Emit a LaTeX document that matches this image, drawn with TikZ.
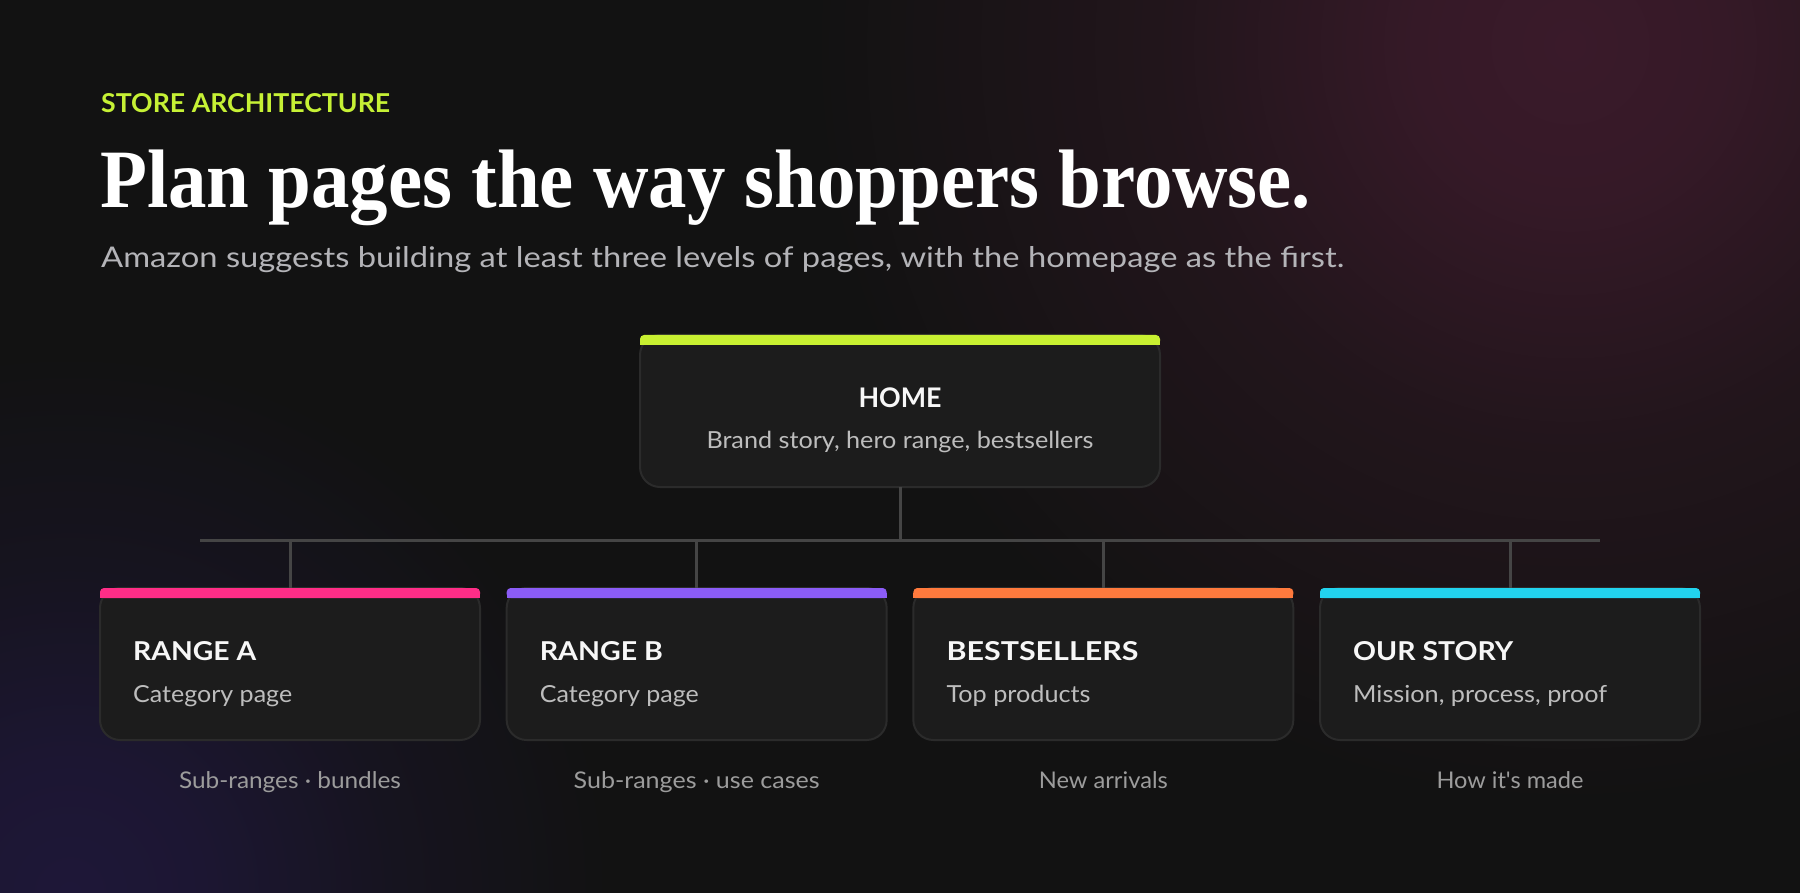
\documentclass[tikz,border=0pt]{standalone}
\usepackage{fontspec}
\usepackage{graphicx}
\newfontfamily\sansf{Lato}
\newfontfamily\seriff{Liberation Serif}
\definecolor{bg}{HTML}{121212}
\definecolor{glowR}{HTML}{3A1A2A}
\definecolor{glowB}{HTML}{1E1738}
\definecolor{boxfill}{HTML}{1C1C1C}
\definecolor{boxline}{HTML}{2B2B2B}
\definecolor{linec}{HTML}{454545}
\definecolor{kicker}{HTML}{C6F135}
\definecolor{cgreen}{HTML}{C8F031}
\definecolor{cpink}{HTML}{FF2D87}
\definecolor{cpurple}{HTML}{8B5CF6}
\definecolor{corange}{HTML}{FF7A3D}
\definecolor{ccyan}{HTML}{22D3EE}
\definecolor{txtw}{HTML}{F7F7F7}
\definecolor{txtd}{HTML}{BDBDBD}
\definecolor{txts}{HTML}{B4B4B8}
\definecolor{txtu}{HTML}{9C9C9C}
\pgfdeclareradialshading{glowRs}{\pgfpoint{0bp}{0bp}}{color(0bp)=(glowR); color(5bp)=(glowR!88!bg); color(13bp)=(glowR!40!bg); color(25bp)=(bg); color(50bp)=(bg)}
\pgfdeclareradialshading{glowBs}{\pgfpoint{0bp}{0bp}}{color(0bp)=(glowB); color(6bp)=(glowB!85!bg); color(15bp)=(glowB!35!bg); color(25bp)=(bg); color(50bp)=(bg)}
\newlength\fitlen
\newcommand\fitw[2]{\settowidth\fitlen{#2}\pgfmathsetmacro\fitsc{#1/\fitlen}\scalebox{\fitsc}[1]{#2}}
\newcommand\topbar[2]{%
  \fill[#2, rounded corners=4pt] (#1.north west) rectangle ([yshift=-10pt]#1.north east);
  \fill[#2] ([yshift=-5pt]#1.north west) rectangle ([yshift=-10pt]#1.north east);}
\begin{document}
\begin{tikzpicture}[x=1pt,y=-1pt,
  box/.style={draw=boxline, line width=2pt, fill=boxfill, rounded corners=20pt,
    minimum width=380pt, minimum height=152pt, anchor=north west, outer sep=0pt, inner sep=0pt},
  conn/.style={draw=linec, line width=3pt},
  ttl/.style={anchor=base west, inner sep=0pt, text=txtw, font=\sansf\bfseries\fontsize{26}{30}\selectfont},
  dsc/.style={anchor=base west, inner sep=0pt, text=txtd, font=\sansf\fontsize{23.5}{28}\selectfont},
  sub/.style={anchor=base, inner sep=0pt, text=txtu, font=\sansf\fontsize{23}{26}\selectfont}]
\useasboundingbox (0,0) rectangle (1800,893);
\fill[bg] (0,0) rectangle (1800,893);
\begin{scope}
  \clip (0,0) rectangle (1800,893);
  \shade[shading=glowRs] (1570,45) circle (760);
  \shade[shading=glowBs] (70,893) circle (540);
\end{scope}

% header
\node[anchor=base west, inner sep=0pt, text=kicker, font=\sansf\bfseries\fontsize{26}{30}\selectfont] (kick) at (101,113) {\fitw{289}{STORE ARCHITECTURE}};
\node[anchor=base west, inner sep=0pt, text=white, font=\seriff\bfseries\fontsize{83}{90}\selectfont] (title) at (100,208) {\fitw{1211}{Plan pages the way shoppers browse.}};
\node[anchor=base west, inner sep=0pt, text=txts, font=\sansf\fontsize{28.5}{32}\selectfont] (subt) at (101,268) {\fitw{1243}{Amazon suggests building at least three levels of pages, with the homepage as the first.}};

% boxes
\node[box, minimum width=520pt] (home) at (640,335) {};
\node[box] (ra) at (100,588) {};
\node[box] (rb) at (506.67,588) {};
\node[box] (bs) at (913.33,588) {};
\node[box] (os) at (1320,588) {};

\topbar{home}{cgreen}
\topbar{ra}{cpink}
\topbar{rb}{cpurple}
\topbar{bs}{corange}
\topbar{os}{ccyan}

% connectors
\coordinate (bus) at (900,540);
\coordinate (busL) at (200,540);
\coordinate (busR) at (1600,540);
\draw[conn] (home.south) -- (home.south |- bus);
\draw[conn] (busL) -- (busR);
\draw[conn] (ra.north |- bus) -- (ra.north);
\draw[conn] (rb.north |- bus) -- (rb.north);
\draw[conn] (bs.north |- bus) -- (bs.north);
\draw[conn] (os.north |- bus) -- (os.north);

% home text
\node[anchor=base, inner sep=0pt, text=txtw, font=\sansf\bfseries\fontsize{27}{30}\selectfont] (homeT) at (900,407) {\fitw{83}{HOME}};
\node[anchor=base, inner sep=0pt, text=txtd, font=\sansf\fontsize{23.5}{28}\selectfont] (homeD) at (900,448) {\fitw{387}{Brand story, hero range, bestsellers}};

% child texts
\node[ttl] (raT) at (133,660) {\fitw{123}{RANGE A}};
\node[dsc] (raD) at (133,702) {\fitw{159}{Category page}};
\node[sub] (raS) at (290,788) {\fitw{222}{Sub-ranges · bundles}};

\node[ttl] (rbT) at (539.67,660) {\fitw{123}{RANGE B}};
\node[dsc] (rbD) at (539.67,702) {\fitw{159}{Category page}};
\node[sub] (rbS) at (696.67,788) {\fitw{246}{Sub-ranges · use cases}};

\node[ttl] (bsT) at (946.33,660) {\fitw{192}{BESTSELLERS}};
\node[dsc] (bsD) at (946.33,702) {\fitw{144}{Top products}};
\node[sub] (bsS) at (1103.33,788) {\fitw{129}{New arrivals}};

\node[ttl] (osT) at (1353,660) {\fitw{160}{OUR STORY}};
\node[dsc] (osD) at (1353,702) {\fitw{254}{Mission, process, proof}};
\node[sub] (osS) at (1510,788) {\fitw{147}{How it's made}};
\end{tikzpicture}
\end{document}
